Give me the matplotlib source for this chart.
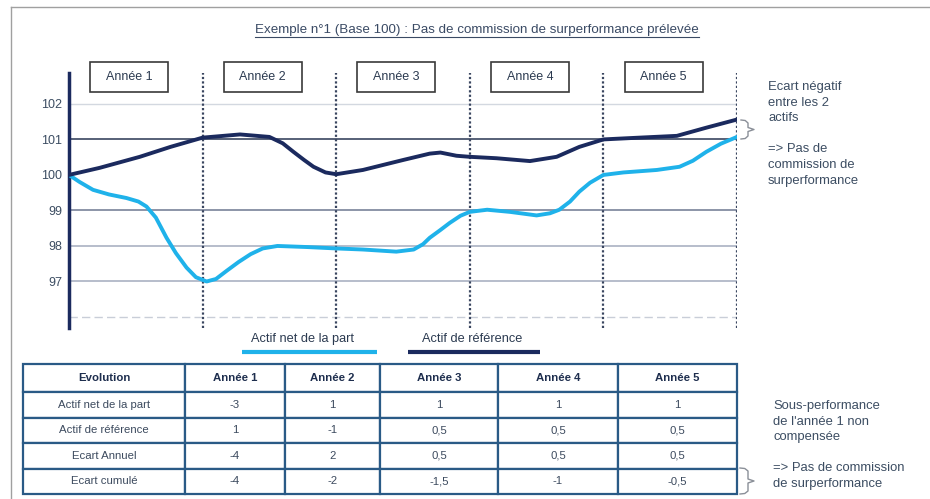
import matplotlib
matplotlib.use("Agg")
import matplotlib.pyplot as plt
from matplotlib.patches import Rectangle

plt.rcParams["font.family"] = ["Liberation Sans", "DejaVu Sans"]

# --- data ------------------------------------------------------------------
years = ["Année 1", "Année 2", "Année 3", "Année 4", "Année 5"]
y_ticks = [97, 98, 99, 100, 101, 102]

# Actif de référence (dark navy curve)
ref_x = [0.0, 0.23, 0.53, 0.76, 1.0, 1.28, 1.5, 1.6, 1.68, 1.76, 1.83, 1.92, 2.0,
         2.2, 2.5, 2.7, 2.78, 2.9, 3.0, 3.2, 3.45, 3.65, 3.82, 4.0, 4.27, 4.55,
         4.77, 5.0]
ref_y = [100.0, 100.2, 100.51, 100.79, 101.05, 101.14, 101.07, 100.89, 100.65,
         100.42, 100.23, 100.07, 100.02, 100.14, 100.42, 100.6, 100.63, 100.54,
         100.51, 100.47, 100.39, 100.51, 100.79, 101.0, 101.05, 101.1, 101.33,
         101.56]

# Actif net de la part (light blue curve)
net_x = [0.0, 0.08, 0.18, 0.3, 0.43, 0.52, 0.58, 0.65, 0.73, 0.8, 0.88, 0.95,
         1.03, 1.1, 1.18, 1.27, 1.36, 1.45, 1.56, 1.78, 2.0, 2.2, 2.45, 2.58,
         2.65, 2.7, 2.78, 2.85, 2.93, 3.0, 3.13, 3.3, 3.5, 3.6, 3.67, 3.75, 3.82,
         3.9, 4.0, 4.15, 4.4, 4.57, 4.67, 4.77, 4.88, 5.0]
net_y = [100.0, 99.8, 99.58, 99.45, 99.35, 99.25, 99.11, 98.8, 98.23, 97.8,
         97.39, 97.12, 97.0, 97.07, 97.3, 97.55, 97.77, 97.93, 98.0, 97.97,
         97.93, 97.9, 97.84, 97.9, 98.05, 98.23, 98.45, 98.65, 98.85, 98.96,
         99.02, 98.96, 98.86, 98.92, 99.02, 99.25, 99.53, 99.78, 100.0, 100.07,
         100.14, 100.23, 100.4, 100.65, 100.88, 101.07]

row_labels = ["Actif net de la part", "Actif de référence", "Ecart Annuel", "Ecart cumulé"]
evo_net = [-3, 1, 1, 1, 1]
evo_ref = [1, -1, 0.5, 0.5, 0.5]
ecart_annuel = [-4, 2, 0.5, 0.5, 0.5]
ecart_cumule = [-4, -2, -1.5, -1, -0.5]

title = "Exemple n°1 (Base 100) : Pas de commission de surperformance prélevée"
note_chart = "Ecart négatif\nentre les 2\nactifs\n\n=> Pas de\ncommission de\nsurperformance"
note_table = "Sous-performance\nde l'année 1 non\ncompensée\n\n=> Pas de commission\nde surperformance"

# --- styles -----------------------------------------------------------------
NAVY = "#1b2a5e"
CYAN = "#1fb2ea"
TXT = "#3c4d62"
TABLE_EDGE = "#2a5a86"
W, H = 930, 499
X0, X1, Y0, Y1 = 69, 737, 73, 328   # plot area in pixels


def fmt(v):
    return f"{v:g}".replace(".", ",")


fig = plt.figure(figsize=(W / 100, H / 100), dpi=100)

# pixel overlay for frame, title, boxes, legend, notes and table
ov = fig.add_axes([0, 0, 1, 1])
ov.set_xlim(0, W)
ov.set_ylim(H, 0)
ov.axis("off")

# main chart, placed so that x=0..5 spans the plot area
ax = fig.add_axes([X0 / W, (H - Y1) / H, (X1 - X0) / W, (Y1 - Y0) / H])
ax.set_xlim(0, 5)
ax.set_ylim(95.69, 102.87)
ax.patch.set_alpha(0)
for side in ["top", "right", "bottom"]:
    ax.spines[side].set_visible(False)
ax.spines["left"].set_color(NAVY)
ax.spines["left"].set_linewidth(2.5)
ax.set_xticks([])
ax.set_yticks(y_ticks)
ax.set_yticklabels([str(t) for t in y_ticks])
ax.tick_params(axis="y", length=0, pad=5, labelsize=9, labelcolor=TXT)

# horizontal reference lines
ax.axhline(102, color="#d3d8e0", lw=1.0, zorder=1)
ax.axhline(101, color="#3a4660", lw=1.2, zorder=1)
ax.axhline(99, color="#8c95a8", lw=1.4, zorder=1)
ax.axhline(98, color="#aab2c2", lw=1.2, zorder=1)
ax.axhline(97, color="#aab2c2", lw=1.2, zorder=1)
ax.axhline(96, color="#c9ced8", lw=1.0, ls=(0, (6, 3)), zorder=1)

# year separators
for i in range(1, len(years) + 1):
    ax.axvline(i, color="#3a4660", lw=1.6, ls=(0, (1, 1)), zorder=2)

ax.plot(ref_x, ref_y, color=NAVY, lw=2.8, solid_joinstyle="round",
        solid_capstyle="round", zorder=4)
ax.plot(net_x, net_y, color=CYAN, lw=2.8, solid_joinstyle="round",
        solid_capstyle="round", zorder=3)

# year boxes above the curves
year_w = (X1 - X0) / len(years)
for i, name in enumerate(years):
    cx = X0 + (i + 0.45) * year_w
    ov.add_patch(Rectangle((cx - 39, 62), 78, 30, fc="white", ec="#3a3a3a", lw=1.2))
    ov.text(cx, 77, name, ha="center", va="center", fontsize=9, color="#2b3a50")

# frame of the page
ov.plot([11, 11], [H, 7], color="#a0a0a0", lw=1)
ov.plot([11, W], [7, 7], color="#a0a0a0", lw=1)

# underlined title
ov.text(477, 30, title, ha="center", va="center", fontsize=9.6, color="#3a4a64")
ov.plot([255, 699], [37, 37], color="#3a4a64", lw=0.8)

# legend under the chart
ov.text(302, 339, "Actif net de la part", ha="center", va="center", fontsize=9.2, color="#2b3a50")
ov.plot([242, 377], [352, 352], color=CYAN, lw=3, solid_capstyle="butt")
ov.text(472, 339, "Actif de référence", ha="center", va="center", fontsize=9.2, color="#2b3a50")
ov.plot([408, 540], [352, 352], color=NAVY, lw=3, solid_capstyle="butt")


def brace(x0, y0, y1, width=7, tip=6):
    ym = (y0 + y1) / 2
    xs = [x0, x0 + width * 0.6, x0 + width, x0 + width, x0 + width + tip,
          x0 + width, x0 + width, x0 + width * 0.6, x0]
    ys = [y0, y0 + 0.5, y0 + 3, ym - 2, ym, ym + 2, y1 - 3, y1 - 0.5, y1]
    ov.plot(xs, ys, color="#8a8f98", lw=1, solid_joinstyle="round")


brace(741, 120, 139)
ov.text(768, 81, note_chart, ha="left", va="top", fontsize=9.4, color=TXT,
        linespacing=1.4)

# table
cell_text = [[fmt(v) for v in row] for row in (evo_net, evo_ref, ecart_annuel, ecart_cumule)]
tbl = ov.table(
    cellText=[[lab] + vals for lab, vals in zip(row_labels, cell_text)],
    colLabels=["Evolution"] + years,
    colWidths=[162, 100, 95, 118, 120, 119],
    cellLoc="center",
    bbox=[23 / W, 5 / H, (737 - 23) / W, (494 - 364) / H],
)
tbl.auto_set_font_size(False)
for (r, c), cell in tbl.get_celld().items():
    cell.set_edgecolor(TABLE_EDGE)
    cell.set_linewidth(1.6)
    cell.set_height(28 if r == 0 else 25.5)
    txt = cell.get_text()
    txt.set_fontsize(8.2)
    if r == 0:
        txt.set_fontweight("bold")
        txt.set_color("#1e2e4e")
    else:
        txt.set_color("#3c4a5e")

brace(740, 468, 494, width=8, tip=6)
ov.text(773, 400, note_table, ha="left", va="top", fontsize=9.4, color=TXT,
        linespacing=1.4)

fig.savefig("out.png", dpi=100)
